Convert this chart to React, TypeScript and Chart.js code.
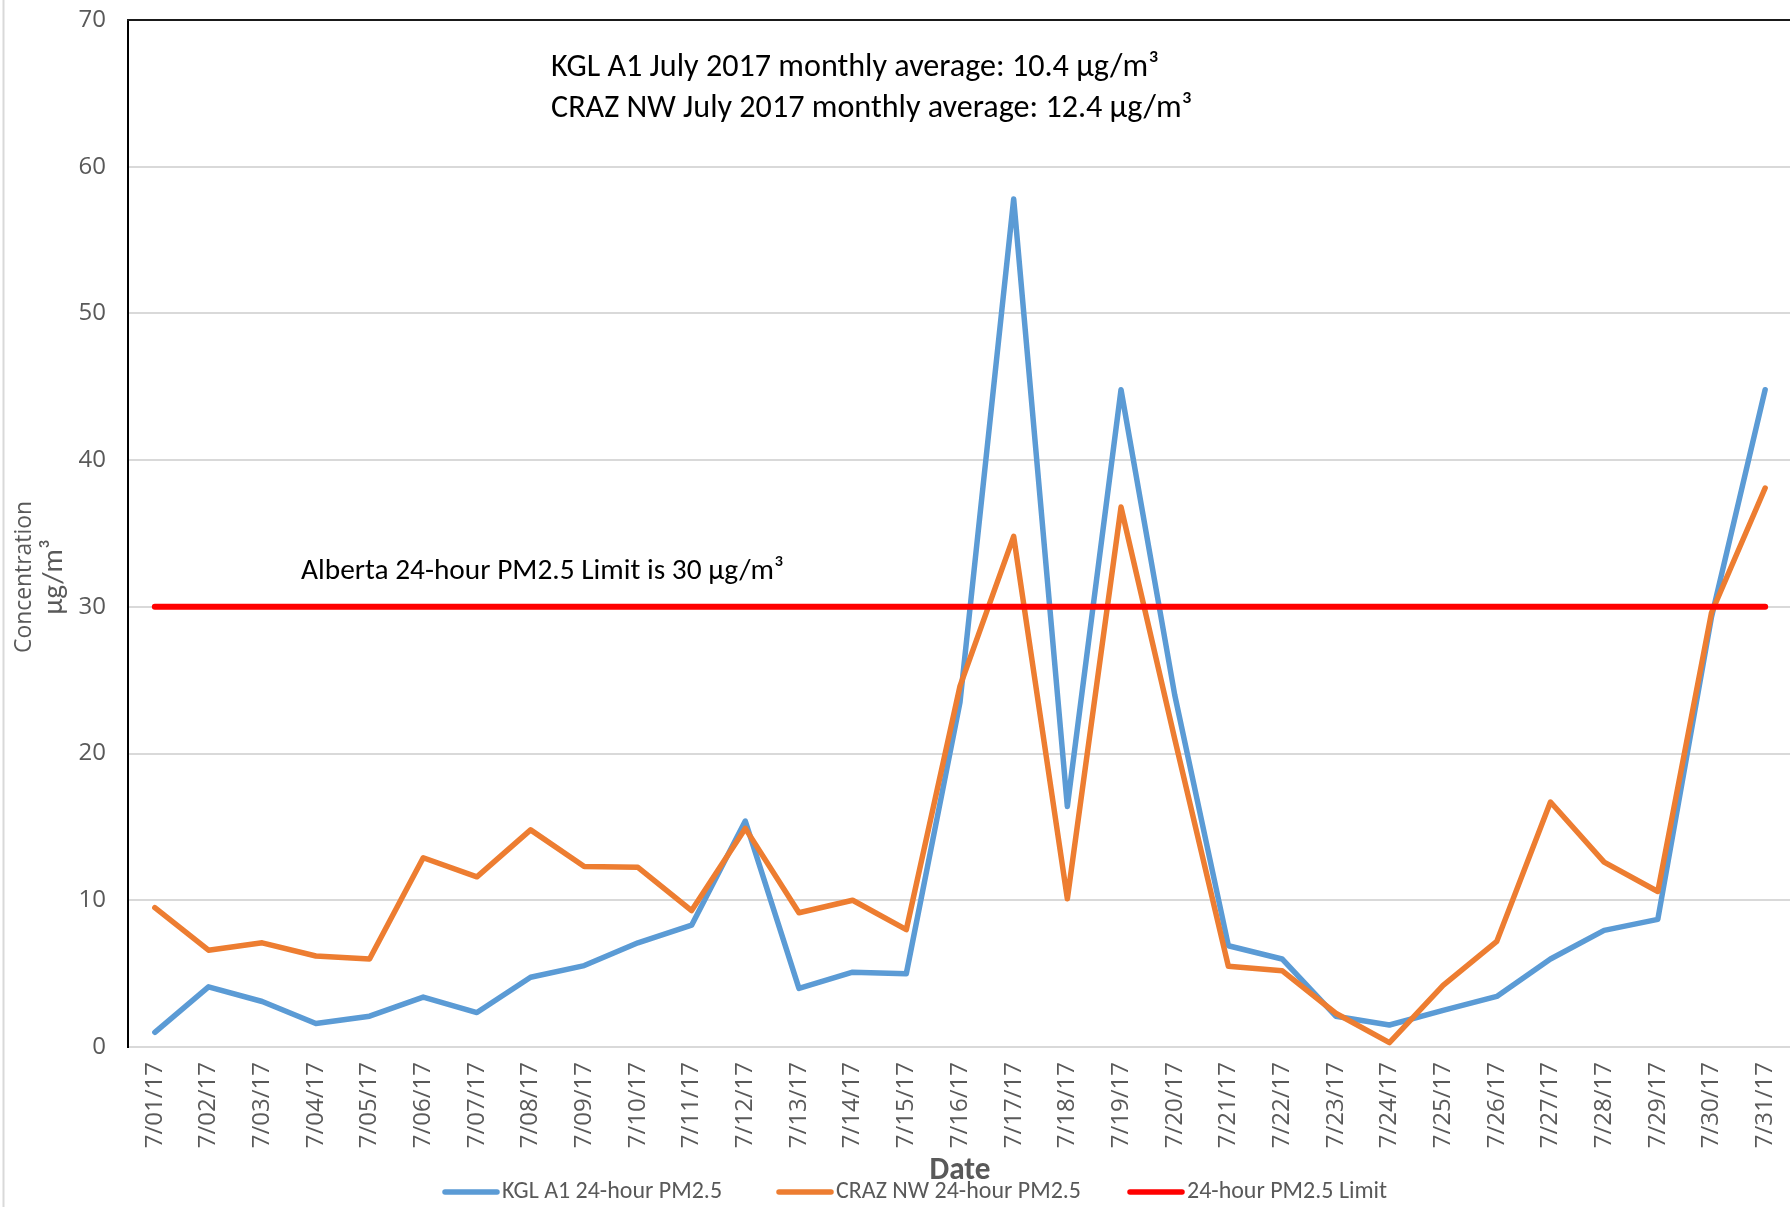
import React, { useEffect, useRef } from "react";
import { Chart, registerables } from "chart.js";

Chart.register(...registerables);

const dates = [
  "7/01/17", "7/02/17", "7/03/17", "7/04/17", "7/05/17", "7/06/17", "7/07/17", "7/08/17",
  "7/09/17", "7/10/17", "7/11/17", "7/12/17", "7/13/17", "7/14/17", "7/15/17", "7/16/17",
  "7/17/17", "7/18/17", "7/19/17", "7/20/17", "7/21/17", "7/22/17", "7/23/17", "7/24/17",
  "7/25/17", "7/26/17", "7/27/17", "7/28/17", "7/29/17", "7/30/17", "7/31/17",
];

const kglA1 = [
  1.0, 4.1, 3.1, 1.6, 2.1, 3.4, 2.35, 4.75, 5.55, 7.1, 8.3, 15.4, 4.0, 5.1, 5.0, 23.5,
  57.8, 16.4, 44.8, 24.0, 6.9, 6.0, 2.1, 1.5, 2.5, 3.45, 6.0, 7.95, 8.7, 29.3, 44.8,
];

const crazNW = [
  9.5, 6.6, 7.1, 6.2, 6.0, 12.9, 11.6, 14.8, 12.3, 12.25, 9.3, 14.9, 9.15, 10.0, 8.0, 24.6,
  34.8, 10.1, 36.8, 21.0, 5.5, 5.2, 2.3, 0.3, 4.2, 7.2, 16.7, 12.6, 10.6, 29.6, 38.1,
];

const limit24h = [
  30, 30, 30, 30, 30, 30, 30, 30, 30, 30, 30, 30, 30, 30, 30, 30,
  30, 30, 30, 30, 30, 30, 30, 30, 30, 30, 30, 30, 30, 30, 30,
];

const seriesLabels = ["KGL A1 24-hour PM2.5", "CRAZ NW 24-hour PM2.5", "24-hour PM2.5 Limit"];
const seriesColors = ["#5B9BD5", "#ED7D31", "#FF0000"];
const yMin = 0;
const yMax = 70;
const yStep = 10;
const averageNotes = [
  "KGL A1 July 2017 monthly average: 10.4 µg/m³",
  "CRAZ NW July 2017 monthly average: 12.4 µg/m³",
];
const limitNote = "Alberta 24-hour PM2.5 Limit is 30 µg/m³";
const yTitleLines = ["Concentration", "µg/m³"];
const xTitle = "Date";

const NARROW = "'Carlito', 'Liberation Sans Narrow', 'DejaVu Sans Condensed', 'Open Sans', sans-serif";
const SANS = "'Open Sans', 'Noto Sans', sans-serif";
const GRAY = "#595959";

function fitFont(ctx: CanvasRenderingContext2D, text: string, width: number, weight: string, family: string) {
  ctx.font = `${weight} 100px ${family}`;
  const w = ctx.measureText(text).width;
  const size = (100 * width) / w;
  return `${weight} ${size.toFixed(2)}px ${family}`;
}

const decorPlugin = {
  id: "decor",
  beforeDraw(chart: any) {
    const ctx = chart.ctx as CanvasRenderingContext2D;
    ctx.save();
    ctx.fillStyle = "#ffffff";
    ctx.fillRect(0, 0, chart.width, chart.height);
    ctx.strokeStyle = "#d9d9d9";
    ctx.lineWidth = 2;
    ctx.beginPath();
    ctx.moveTo(3.5, 0);
    ctx.lineTo(3.5, chart.height);
    ctx.stroke();
    ctx.restore();
  },
  afterDraw(chart: any) {
    const ctx = chart.ctx as CanvasRenderingContext2D;
    const area = chart.chartArea;
    ctx.save();
    // top border of plot area
    ctx.strokeStyle = "#1a1a1a";
    ctx.lineWidth = 2;
    ctx.beginPath();
    ctx.moveTo(area.left - 1, area.top);
    ctx.lineTo(chart.width, area.top);
    ctx.stroke();

    // monthly average notes
    ctx.fillStyle = "#000000";
    ctx.textBaseline = "middle";
    ctx.textAlign = "left";
    ctx.font = fitFont(ctx, averageNotes[0], 608, "normal", NARROW);
    ctx.fillText(averageNotes[0], 551, 68);
    ctx.fillText(averageNotes[1], 551, 109);
    ctx.font = fitFont(ctx, limitNote, 483, "normal", NARROW);
    ctx.fillText(limitNote, 301, 572);

    // y axis title
    ctx.fillStyle = GRAY;
    ctx.textAlign = "center";
    ctx.save();
    ctx.translate(24, 577);
    ctx.rotate(-Math.PI / 2);
    ctx.font = fitFont(ctx, yTitleLines[0], 152, "normal", SANS);
    ctx.fillText(yTitleLines[0], 0, 0);
    ctx.restore();
    ctx.save();
    ctx.translate(55, 577);
    ctx.rotate(-Math.PI / 2);
    ctx.fillText(yTitleLines[1], 0, 0);
    ctx.restore();

    // x axis title
    ctx.font = fitFont(ctx, xTitle, 61, "bold", NARROW);
    ctx.fillText(xTitle, 960, 1171);

    // legend
    const legendY = 1192;
    const lineStarts = [445, 779, 1130];
    const legendFont = fitFont(ctx, seriesLabels[0], 220, "normal", NARROW);
    ctx.textAlign = "left";
    chart.data.datasets.forEach((ds: any, i: number) => {
      const x0 = lineStarts[i];
      ctx.strokeStyle = ds.borderColor;
      ctx.lineWidth = 5.5;
      ctx.lineCap = "round";
      ctx.beginPath();
      ctx.moveTo(x0, legendY);
      ctx.lineTo(x0 + 52, legendY);
      ctx.stroke();
      ctx.font = legendFont;
      ctx.fillStyle = GRAY;
      ctx.fillText(ds.label, x0 + 57, legendY);
    });
    ctx.restore();
  },
};

export default function App() {
  const canvasRef = useRef<HTMLCanvasElement | null>(null);

  useEffect(() => {
    const canvas = canvasRef.current;
    if (!canvas) return;
    const chart = new Chart(canvas, {
      type: "line",
      data: {
        labels: dates,
        datasets: [
          {
            label: seriesLabels[0],
            data: kglA1,
            borderColor: seriesColors[0],
            backgroundColor: seriesColors[0],
            borderWidth: 5.5,
            pointRadius: 0,
            borderCapStyle: "round",
            borderJoinStyle: "round",
            tension: 0,
            order: 3,
          },
          {
            label: seriesLabels[1],
            data: crazNW,
            borderColor: seriesColors[1],
            backgroundColor: seriesColors[1],
            borderWidth: 5.5,
            pointRadius: 0,
            borderCapStyle: "round",
            borderJoinStyle: "round",
            tension: 0,
            order: 2,
          },
          {
            label: seriesLabels[2],
            data: limit24h,
            borderColor: seriesColors[2],
            backgroundColor: seriesColors[2],
            borderWidth: 6,
            pointRadius: 0,
            borderCapStyle: "round",
            tension: 0,
            order: 1,
          },
        ],
      },
      options: {
        responsive: false,
        animation: false,
        devicePixelRatio: 1,
        layout: { autoPadding: false, padding: { top: 20, left: 0, right: 0, bottom: 0 } },
        plugins: {
          legend: { display: false },
          tooltip: { enabled: false },
          title: { display: false },
        },
        scales: {
          x: {
            type: "category",
            offset: true,
            grid: { display: false, drawTicks: false },
            border: { display: true, color: "#d9d9d9", width: 2 },
            ticks: {
              autoSkip: false,
              maxRotation: 90,
              minRotation: 90,
              padding: 15,
              color: GRAY,
              font: { family: SANS, size: 24 },
            },
            afterFit: (scale: any) => {
              scale.height = 160;
              scale.paddingLeft = 0;
              scale.paddingRight = 0;
            },
          },
          y: {
            min: yMin,
            max: yMax,
            grid: { color: "#d9d9d9", lineWidth: 2, drawTicks: false },
            border: { display: true, color: "#000000", width: 2 },
            ticks: {
              stepSize: yStep,
              padding: 22,
              color: GRAY,
              font: { family: SANS, size: 24 },
            },
            afterFit: (scale: any) => {
              scale.width = 128;
              scale.paddingTop = 0;
              scale.paddingBottom = 0;
            },
          },
        },
      },
      plugins: [decorPlugin],
    });
    return () => chart.destroy();
  }, []);

  return (
    <div
      style={{
        position: "absolute",
        left: 0,
        top: 0,
        width: 1790,
        height: 1207,
        overflow: "hidden",
        background: "#ffffff",
      }}
    >
      <canvas ref={canvasRef} width={1792} height={1207} style={{ display: "block" }} />
    </div>
  );
}
